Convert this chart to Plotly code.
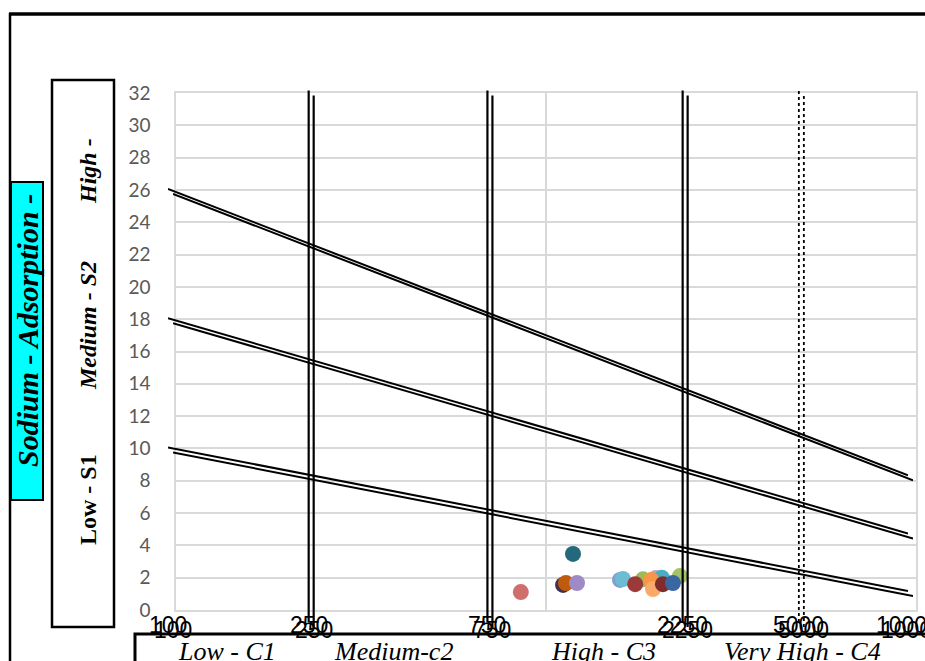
import numpy as np
import plotly.graph_objects as go

W, H = 925, 661

# ---------------- data ----------------
ec_lines = [100, 10000]                 # EC end points of the SAR hazard lines
sar_s4_bound = [26.0, 8.27]             # High / Very high boundary
sar_s3_bound = [18.0, 4.67]             # Medium / High boundary
sar_s2_bound = [10.0, 1.11]             # Low / Medium boundary
ec_bounds_solid = [240, 730, 2460]      # salinity class boundaries (solid)
ec_bounds_dotted = [5070]               # dotted boundary
vline_span = [-0.8, 32.1]
tick_vals = [100, 240, 730, 2460, 5070, 10000]
tick_text = ["100", "250", "750", "2250", "5000", "10000"]

sample_ec = [855, 1112, 1132, 1213, 1183, 1585, 1614, 1828, 1983, 2056, 2300,
             1923, 1742, 1946, 2070, 2203]
sample_sar = [1.11, 1.55, 1.67, 1.67, 3.47, 1.86, 1.92, 1.90, 1.98, 2.00, 2.10,
              1.86, 1.60, 1.30, 1.60, 1.67]
sample_colors = ["#CF6F6B", "#403152", "#C05A0C", "#A08AC6", "#24697B", "#7E9FD0",
                 "#6CBDD2", "#9BBB59", "#C9A0C0", "#4BACC6", "#A3C36B",
                 "#F79646", "#9B3A38", "#F9A96B", "#7E2C2C", "#3A679F"]

# ---------------- geometry helpers ----------------
PX_X0, PX_X1 = 176, 916     # plot area (grid) in pixels
PX_Y0, PX_Y32 = 610, 93
UNIT = (PX_Y0 - PX_Y32) / 32.0


def xdom(dx):
    return [(PX_X0 + dx) / W, (PX_X1 + dx) / W]


def ydom(dy, lo, hi):
    bottom = PX_Y0 + dy - lo * UNIT
    top = PX_Y0 + dy - hi * UNIT
    return [1 - bottom / H, 1 - top / H]


fig = go.Figure()

# sample points on the base (gridded) chart
for ec, sar, col in zip(sample_ec, sample_sar, sample_colors):
    fig.add_trace(go.Scatter(x=[ec], y=[sar], mode="markers",
                             marker=dict(size=16, color=col, line=dict(width=0)),
                             xaxis="x", yaxis="y", showlegend=False, hoverinfo="x+y"))

# the two offset copies of the boundary lines
copies = [("x2", "y2", -8, -1), ("x3", "y3", -3, 4)]
for xa, ya, dx, dy in copies:
    for ys in (sar_s4_bound, sar_s3_bound, sar_s2_bound):
        fig.add_trace(go.Scatter(x=ec_lines, y=ys, mode="lines",
                                 line=dict(color="black", width=2),
                                 xaxis=xa, yaxis=ya, showlegend=False, hoverinfo="skip"))
    vx, vy = [], []
    for v in ec_bounds_solid:
        vx += [v, v, None]
        vy += [vline_span[0], vline_span[1], None]
    fig.add_trace(go.Scatter(x=vx, y=vy, mode="lines",
                             line=dict(color="black", width=2.2),
                             xaxis=xa, yaxis=ya, showlegend=False, hoverinfo="skip"))
    dxs, dys = [], []
    for v in ec_bounds_dotted:
        dxs += [v, v, None]
        dys += [vline_span[0], vline_span[1], None]
    fig.add_trace(go.Scatter(x=dxs, y=dys, mode="lines",
                             line=dict(color="black", width=1.8, dash="dot"),
                             xaxis=xa, yaxis=ya, showlegend=False, hoverinfo="skip"))

GRID = "#d9d9d9"
layout = dict(
    width=W, height=H, margin=dict(l=0, r=0, t=0, b=0, autoexpand=False),
    paper_bgcolor="white", plot_bgcolor="rgba(0,0,0,0)",
    xaxis=dict(type="log", range=[2, 4], domain=xdom(0), dtick=1,
               showticklabels=False, ticks="", showgrid=True, gridcolor=GRID,
               gridwidth=1.5, zeroline=False, showline=True, mirror=True,
               linecolor=GRID, linewidth=1.5, anchor="y", automargin=False),
    yaxis=dict(range=[0, 32], domain=ydom(0, 0, 32), dtick=2, tick0=0,
               showgrid=True, gridcolor=GRID, gridwidth=1.5, zeroline=False,
               showline=True, mirror=True, linecolor=GRID, linewidth=1.5,
               ticks="", ticklabelstandoff=20, automargin=False,
               tickfont=dict(family="Lato, Open Sans, sans-serif", size=19, color="#595959"),
               anchor="x"),
)
for i, (xa, ya, dx, dy) in enumerate(copies, start=2):
    layout[f"xaxis{i}"] = dict(type="log", range=[2, 4], domain=xdom(dx), visible=False,
                               anchor=ya, fixedrange=True, automargin=False)
    layout[f"yaxis{i}"] = dict(range=[-1, 32.6], domain=ydom(dy, -1, 32.6), visible=False,
                               anchor=xa, fixedrange=True, automargin=False)
fig.update_layout(**layout)

annotations = []
# duplicated x tick labels (one set per copy)
for xa, ya, dx, dy in copies:
    for v, t in zip(tick_vals, tick_text):
        annotations.append(dict(x=np.log10(v), y=0, xref=xa, yref=ya, text=t,
                                showarrow=False, yshift=-16, xanchor="center",
                                yanchor="middle",
                                font=dict(family="Liberation Sans Narrow, Arial Narrow, sans-serif",
                                          size=23, color="black")))


def px(x):
    return x / W


def py(y):
    return 1 - y / H


serif = "Liberation Serif, Times New Roman, serif"


def rot(cx, cy, text, size):
    return dict(x=px(cx), y=py(cy), xref="paper", yref="paper", text=text,
                textangle=-90, showarrow=False, xanchor="center", yanchor="middle",
                font=dict(family=serif, size=size, color="black"))


annotations.append(rot(27, 331, "<b><i>Sodium - Adsorption -</i></b>", 30))
annotations.append(rot(88, 171, "<b><i>High -</i></b>", 24))
annotations.append(rot(88, 326, "<b><i>Medium - S2</i></b>", 24))
annotations.append(rot(88, 500, "<b>Low - S1</b>", 24))
# salinity classes at the bottom
for cx, t in [(227, "Low - C1"), (393, "Medium-c2"), (603, "High - C3"), (802, "Very High - C4")]:
    annotations.append(dict(x=px(cx), y=py(651), xref="paper", yref="paper",
                            text=f"<i>{t}</i>", showarrow=False, xanchor="center",
                            yanchor="middle",
                            font=dict(family=serif, size=26, color="black")))
fig.update_layout(annotations=annotations)

shapes = [
    # outer frame
    dict(type="line", xref="paper", yref="paper", x0=px(9), x1=px(930), y0=py(14), y1=py(14),
         line=dict(color="black", width=3.5)),
    dict(type="line", xref="paper", yref="paper", x0=px(10), x1=px(10), y0=py(13), y1=py(670),
         line=dict(color="black", width=2.5)),
    # cyan box
    dict(type="rect", xref="paper", yref="paper", x0=px(11), x1=px(43), y0=py(182), y1=py(500),
         fillcolor="#00FFFF", line=dict(color="black", width=2), layer="below"),
    # white box for SAR classes
    dict(type="rect", xref="paper", yref="paper", x0=px(52), x1=px(114), y0=py(80), y1=py(627),
         fillcolor="white", line=dict(color="black", width=2.5), layer="below"),
    # bottom box
    dict(type="rect", xref="paper", yref="paper", x0=px(135), x1=px(935), y0=py(634), y1=py(675),
         fillcolor="rgba(0,0,0,0)", line=dict(color="black", width=3), layer="below"),
]
fig.update_layout(shapes=shapes)

fig.write_html("out.html")
